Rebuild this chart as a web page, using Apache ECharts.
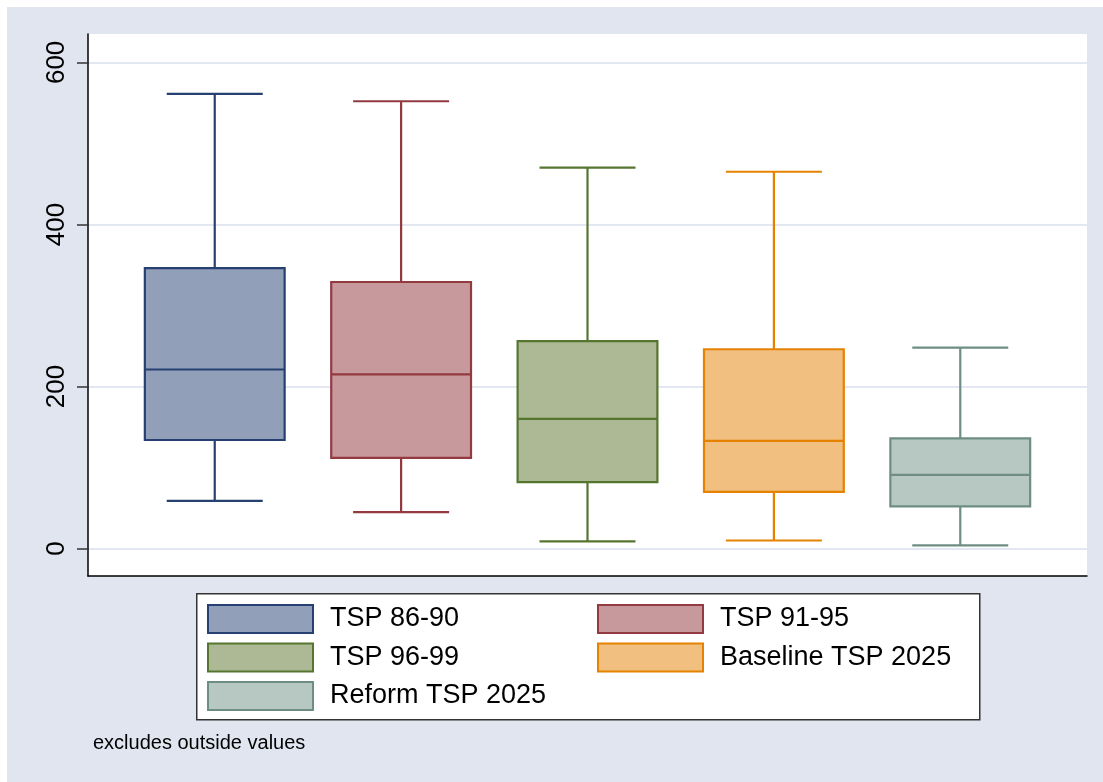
<!DOCTYPE html>
<html>
<head>
<meta charset="utf-8">
<script src="https://cdn.jsdelivr.net/npm/echarts@6/dist/echarts.min.js"></script>
<style>
    html, body { margin: 0; padding: 0; }
    #main { width: 1103px; height: 782px; }
</style>
</head>
<body>
<div id="main"></div>
<script>
// groups, left to right
var groupNames = ['TSP 86-90', 'TSP 91-95', 'TSP 96-99', 'Baseline TSP 2025', 'Reform TSP 2025'];
// box stats: [lower whisker, Q1, median, Q3, upper whisker]
var boxStats = [
    [59, 134, 221, 346, 561],
    [45, 112, 215, 329, 552],
    [9, 82, 160, 256, 470],
    [10, 70, 133, 246, 465],
    [4, 52, 91, 136, 248]
];
var yTicks = [0, 200, 400, 600];

var fillColors = ['#929fb8', '#c8999c', '#acb994', '#f1bf7f', '#b7c8c2'];
var lineColors = ['#264072', '#933a40', '#56752f', '#e58200', '#6e8e84'];

var FONT = '"Liberation Sans", Arial, sans-serif';

(function boxChart() {
    var dom = document.getElementById('main');
    var chart = echarts.init(dom);

    function renderBox(params, api) {
        var x = api.value(0);
        var lo = api.coord([x, api.value(1)]);
        var q1 = api.coord([x, api.value(2)]);
        var med = api.coord([x, api.value(3)]);
        var q3 = api.coord([x, api.value(4)]);
        var hi = api.coord([x, api.value(5)]);
        var boxW = api.size([0.75, 0])[0];
        var capW = api.size([0.515, 0])[0];
        var cx = lo[0];
        var style = api.style();
        var stroke = style.stroke;
        var lineStyle = { stroke: stroke, lineWidth: 2.2 };
        return {
            type: 'group',
            children: [
                { type: 'line', shape: { x1: cx, y1: hi[1], x2: cx, y2: q3[1] }, style: lineStyle },
                { type: 'line', shape: { x1: cx, y1: q1[1], x2: cx, y2: lo[1] }, style: lineStyle },
                { type: 'line', shape: { x1: cx - capW / 2, y1: hi[1], x2: cx + capW / 2, y2: hi[1] }, style: lineStyle },
                { type: 'line', shape: { x1: cx - capW / 2, y1: lo[1], x2: cx + capW / 2, y2: lo[1] }, style: lineStyle },
                {
                    type: 'rect',
                    shape: { x: cx - boxW / 2, y: q3[1], width: boxW, height: q1[1] - q3[1] },
                    style: { fill: style.fill, stroke: stroke, lineWidth: 2.2 }
                },
                { type: 'line', shape: { x1: cx - boxW / 2, y1: med[1], x2: cx + boxW / 2, y2: med[1] }, style: lineStyle }
            ]
        };
    }

    var series = groupNames.map(function (name, i) {
        return {
            name: name,
            type: 'custom',
            renderItem: renderBox,
            itemStyle: {
                color: fillColors[i],
                borderColor: lineColors[i],
                borderWidth: 2
            },
            encode: { x: 0, y: [1, 2, 3, 4, 5] },
            data: [[i + 1].concat(boxStats[i])]
        };
    });

    var legendText = {
        fontFamily: FONT,
        fontSize: 27,
        color: '#000',
        padding: [0, 0, 0, 12]
    };

    var option = {
        backgroundColor: '#e0e5f0',
        animation: false,
        grid: {
            left: 88,
            right: 16,
            top: 34,
            bottom: 206,
            show: true,
            backgroundColor: '#fff',
            borderWidth: 0
        },
        xAxis: {
            type: 'value',
            min: 0.32,
            max: 5.68,
            axisLine: { onZero: false, lineStyle: { color: '#000', width: 1.5 } },
            axisTick: { show: false },
            axisLabel: { show: false },
            splitLine: { show: false }
        },
        yAxis: {
            type: 'value',
            min: -33.8,
            max: 635,
            axisLine: { show: true, onZero: false, lineStyle: { color: '#000', width: 1.5 } },
            axisTick: {
                show: true,
                length: 11,
                customValues: yTicks,
                lineStyle: { color: '#333', width: 1.5 }
            },
            axisLabel: {
                customValues: yTicks,
                rotate: 90,
                margin: 18,
                fontFamily: FONT,
                fontSize: 26,
                color: '#000'
            },
            splitLine: { show: true, lineStyle: { color: '#e3e7f1', width: 2 } }
        },
        legend: [
            {
                left: 207,
                top: 604,
                orient: 'vertical',
                padding: 0,
                itemWidth: 105,
                itemHeight: 28,
                itemGap: 8.5,
                icon: 'rect',
                selectedMode: false,
                itemStyle: { borderWidth: 2 },
                textStyle: legendText,
                data: [groupNames[0], groupNames[2], groupNames[4]]
            },
            {
                left: 597,
                top: 604,
                orient: 'vertical',
                padding: 0,
                itemWidth: 105,
                itemHeight: 28,
                itemGap: 8.5,
                icon: 'rect',
                selectedMode: false,
                itemStyle: { borderWidth: 2 },
                textStyle: legendText,
                data: [groupNames[1], groupNames[3]]
            }
        ],
        graphic: [
            { type: 'rect', left: 0, top: 0, shape: { width: 1103, height: 7 }, style: { fill: '#fff' }, silent: true },
            { type: 'rect', left: 0, top: 0, shape: { width: 7, height: 782 }, style: { fill: '#fff' }, silent: true },
            {
                type: 'rect',
                left: 196,
                top: 593,
                z: 1,
                shape: { width: 783, height: 126 },
                style: { fill: '#fff', stroke: '#333', lineWidth: 1.5 },
                silent: true
            },
            {
                type: 'text',
                left: 93,
                top: 733,
                style: {
                    text: 'excludes outside values',
                    fill: '#000',
                    fontFamily: FONT,
                    fontSize: 20
                },
                silent: true
            }
        ],
        series: series
    };

    if (option && typeof option === 'object') {
        chart.setOption(option, true);
    }
})();
</script>
</body>
</html>
